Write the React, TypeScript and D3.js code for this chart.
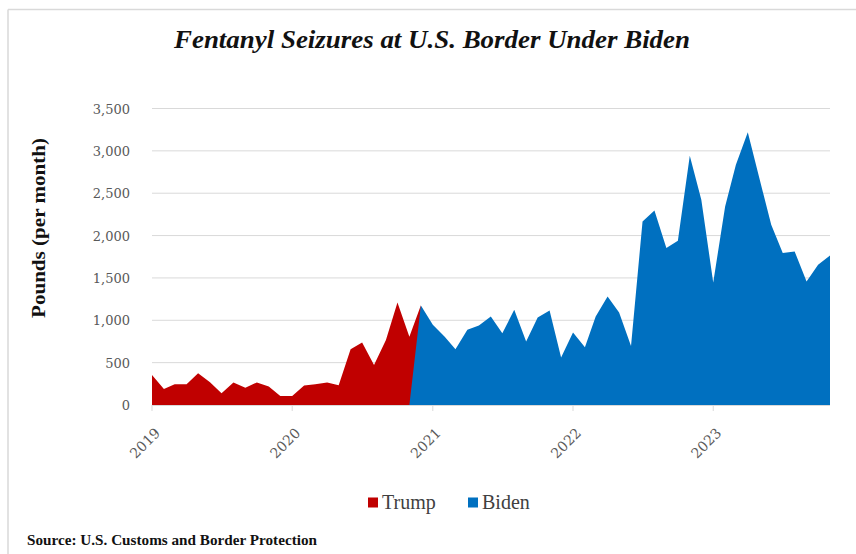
import React from "react";
import * as d3 from "d3";

const trumpMonths = [
  "2019-01","2019-02","2019-03","2019-04","2019-05","2019-06","2019-07","2019-08","2019-09","2019-10","2019-11","2019-12",
  "2020-01","2020-02","2020-03","2020-04","2020-05","2020-06","2020-07","2020-08","2020-09","2020-10","2020-11","2020-12",
];
const trumpValues = [355,189,245,245,375,268,138,266,205,266,217,106,106,229,245,266,233,658,737,473,768,1209,807,1178];

const bidenMonths = [
  "2020-11","2020-12",
  "2021-01","2021-02","2021-03","2021-04","2021-05","2021-06","2021-07","2021-08","2021-09","2021-10","2021-11","2021-12",
  "2022-01","2022-02","2022-03","2022-04","2022-05","2022-06","2022-07","2022-08","2022-09","2022-10","2022-11","2022-12",
  "2023-01","2023-02","2023-03","2023-04","2023-05","2023-06","2023-07","2023-08","2023-09","2023-10","2023-11",
];
const bidenValues = [0,1174,946,807,658,887,938,1044,847,1123,749,1032,1115,560,855,682,1044,1280,1091,697,2167,2297,1852,1938,2943,2423,1446,2344,2837,3219,2679,2128,1793,1812,1458,1655,1765];

const yTicks = [0, 500, 1000, 1500, 2000, 2500, 3000, 3500];
const xTickYears = ["2019", "2020", "2021", "2022", "2023"];
const seriesNames = ["Trump", "Biden"];
const seriesColors = ["#C00000", "#0070C0"];

const parseMonth = d3.timeParse("%Y-%m");
const parseYear = d3.timeParse("%Y");

export default function App() {
  const W = 856, H = 554;
  const x = d3.scaleTime()
    .domain([parseMonth("2019-01")!, parseMonth("2023-11")!])
    .range([152, 830]);
  const y = d3.scaleLinear().domain([0, 3500]).range([405, 108.5]);
  const area = d3.area<[Date, number]>()
    .x(d => x(d[0]))
    .y0(y(0))
    .y1(d => y(d[1]));
  const trump: [Date, number][] = trumpMonths.map((m, i) => [parseMonth(m)!, trumpValues[i]]);
  const biden: [Date, number][] = bidenMonths.map((m, i) => [parseMonth(m)!, bidenValues[i]]);
  const fmt = d3.format(",");
  const serif = "'Liberation Serif', 'DejaVu Serif', serif";
  const tickFont = "'DejaVu Serif', serif";

  return (
    <svg width={W} height={H} style={{ position: "absolute", left: 0, top: 0, background: "#fff" }}>
      <rect x={0} y={0} width={W} height={H} fill="#fff" />
      {/* frame */}
      <line x1={8} x2={W} y1={9.5} y2={9.5} stroke="#d9d9d9" strokeWidth={1.5} />
      <line x1={8} x2={8} y1={9.5} y2={H} stroke="#d9d9d9" strokeWidth={1.5} />

      <text x={432} y={48} textAnchor="middle" fontFamily={serif} fontWeight="bold" fontStyle="italic"
        fontSize={25} textLength={516} lengthAdjust="spacingAndGlyphs" fill="#111">
        Fentanyl Seizures at U.S. Border Under Biden
      </text>

      {/* gridlines */}
      {yTicks.map(t => (
        <line key={t} x1={152} x2={830} y1={y(t)} y2={y(t)} stroke="#d9d9d9" strokeWidth={1} />
      ))}
      {yTicks.map(t => (
        <text key={"l" + t} x={130} y={y(t) + 5} textAnchor="end" fontFamily={tickFont} fontSize={13}
          fill="#595959">{fmt(t)}</text>
      ))}

      <path d={area(trump)!} fill={seriesColors[0]} />
      <path d={area(biden)!} fill={seriesColors[1]} />

      {/* x axis */}
      <line x1={152} x2={830} y1={405.5} y2={405.5} stroke="#d9d9d9" strokeWidth={1} />
      {xTickYears.map(yr => {
        const px = x(parseYear(yr)!);
        return (
          <g key={yr}>
            <line x1={px} x2={px} y1={405} y2={411} stroke="#d9d9d9" strokeWidth={1} />
            <text transform={`translate(${px + 9},${434}) rotate(-45)`} textAnchor="end"
              fontFamily={tickFont} fontSize={14} fill="#595959">{yr}</text>
          </g>
        );
      })}

      <text transform="translate(45,228) rotate(-90)" textAnchor="middle" fontFamily={serif}
        fontWeight="bold" fontSize={19} textLength={180} lengthAdjust="spacingAndGlyphs" fill="#111">
        Pounds (per month)
      </text>

      {/* legend */}
      {seriesNames.map((n, i) => {
        const lx = i === 0 ? 368 : 468;
        return (
          <g key={n}>
            <rect x={lx} y={497.5} width={10} height={10} fill={seriesColors[i]} />
            <text x={lx + 14} y={508.5} fontFamily={serif} fontSize={20} fill="#404040">{n}</text>
          </g>
        );
      })}

      <text x={27} y={545} fontFamily={serif} fontWeight="bold" fontSize={15} textLength={290}
        lengthAdjust="spacingAndGlyphs" fill="#111">
        Source: U.S. Customs and Border Protection
      </text>
    </svg>
  );
}
